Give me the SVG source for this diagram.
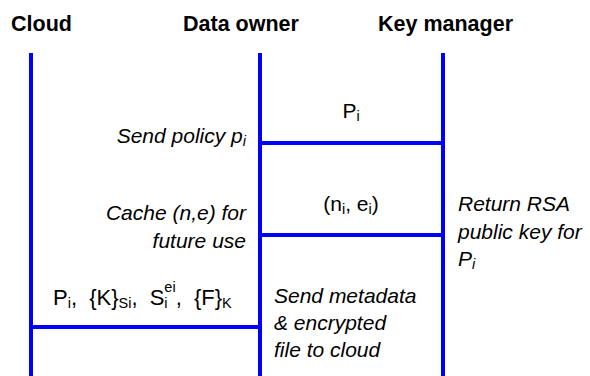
<svg xmlns="http://www.w3.org/2000/svg" width="590" height="376" viewBox="0 0 590 376">
  <style>
    text { font-family: "Liberation Sans", Arial, sans-serif; fill: #000; }
    .life { stroke: #0000ff; stroke-width: 4; fill: none; }
    .msg { stroke: #0000ff; stroke-width: 4; fill: none; }
    .head { font-weight: bold; font-size: 21.5px; }
    .note { font-style: italic; font-size: 21px; }
    .lbl { font-size: 21px; }
    .sub { font-size: 14.5px; }
  </style>
  <rect width="590" height="376" fill="#fff"/>

  <!-- participants with their lifelines -->
  <g id="cloud">
    <text class="head" x="11" y="31">Cloud</text>
    <line class="life" x1="31" y1="53" x2="31" y2="376"/>
  </g>
  <g id="data-owner">
    <text class="head" x="183" y="31">Data owner</text>
    <line class="life" x1="260" y1="53" x2="260" y2="376"/>
  </g>
  <g id="key-manager">
    <text class="head" x="378" y="31">Key manager</text>
    <line class="life" x1="443" y1="53" x2="443" y2="376"/>
  </g>

  <!-- messages exchanged between lifelines -->
  <g id="connectors">
    <line class="msg" x1="260" y1="143" x2="443" y2="143"/>
    <line class="msg" x1="260" y1="235" x2="443" y2="235"/>
    <line class="msg" x1="31" y1="327" x2="260" y2="327"/>
  </g>

  <!-- message labels -->
  <g id="msg-labels">
    <text class="lbl" x="351" y="118" text-anchor="middle">P<tspan class="sub" dy="3">i</tspan></text>
    <text class="lbl" x="351" y="211" text-anchor="middle">(n<tspan class="sub" dy="3">i</tspan><tspan dy="-3">, e</tspan><tspan class="sub" dy="3">i</tspan><tspan dy="-3">)</tspan></text>
    <text class="lbl" x="53" y="305" style="font-size:22px" word-spacing="6">P<tspan class="sub" dy="3">i</tspan><tspan dy="-3">, {K}</tspan><tspan class="sub" dy="3">Si</tspan><tspan dy="-3">, S</tspan><tspan class="sub" dy="3">i</tspan><tspan class="sub" dx="-3.2" dy="-16">ei</tspan><tspan dy="13">, {F}</tspan><tspan class="sub" dy="3">K</tspan></text>
  </g>

  <!-- step descriptions -->
  <g id="notes">
    <text class="note" x="246" y="143" text-anchor="end">Send policy p<tspan class="sub" dy="3">i</tspan></text>
    <text class="note" x="246" y="220" text-anchor="end">Cache (n,e) for</text>
    <text class="note" x="246" y="248" text-anchor="end">future use</text>
    <text class="note" x="458" y="211">Return RSA</text>
    <text class="note" x="458" y="239">public key for</text>
    <text class="note" x="458" y="266">P<tspan class="sub" dy="3">i</tspan></text>
    <text class="note" x="274" y="303">Send metadata</text>
    <text class="note" x="274" y="330">&amp; encrypted</text>
    <text class="note" x="274" y="357">file to cloud</text>
  </g>
</svg>
